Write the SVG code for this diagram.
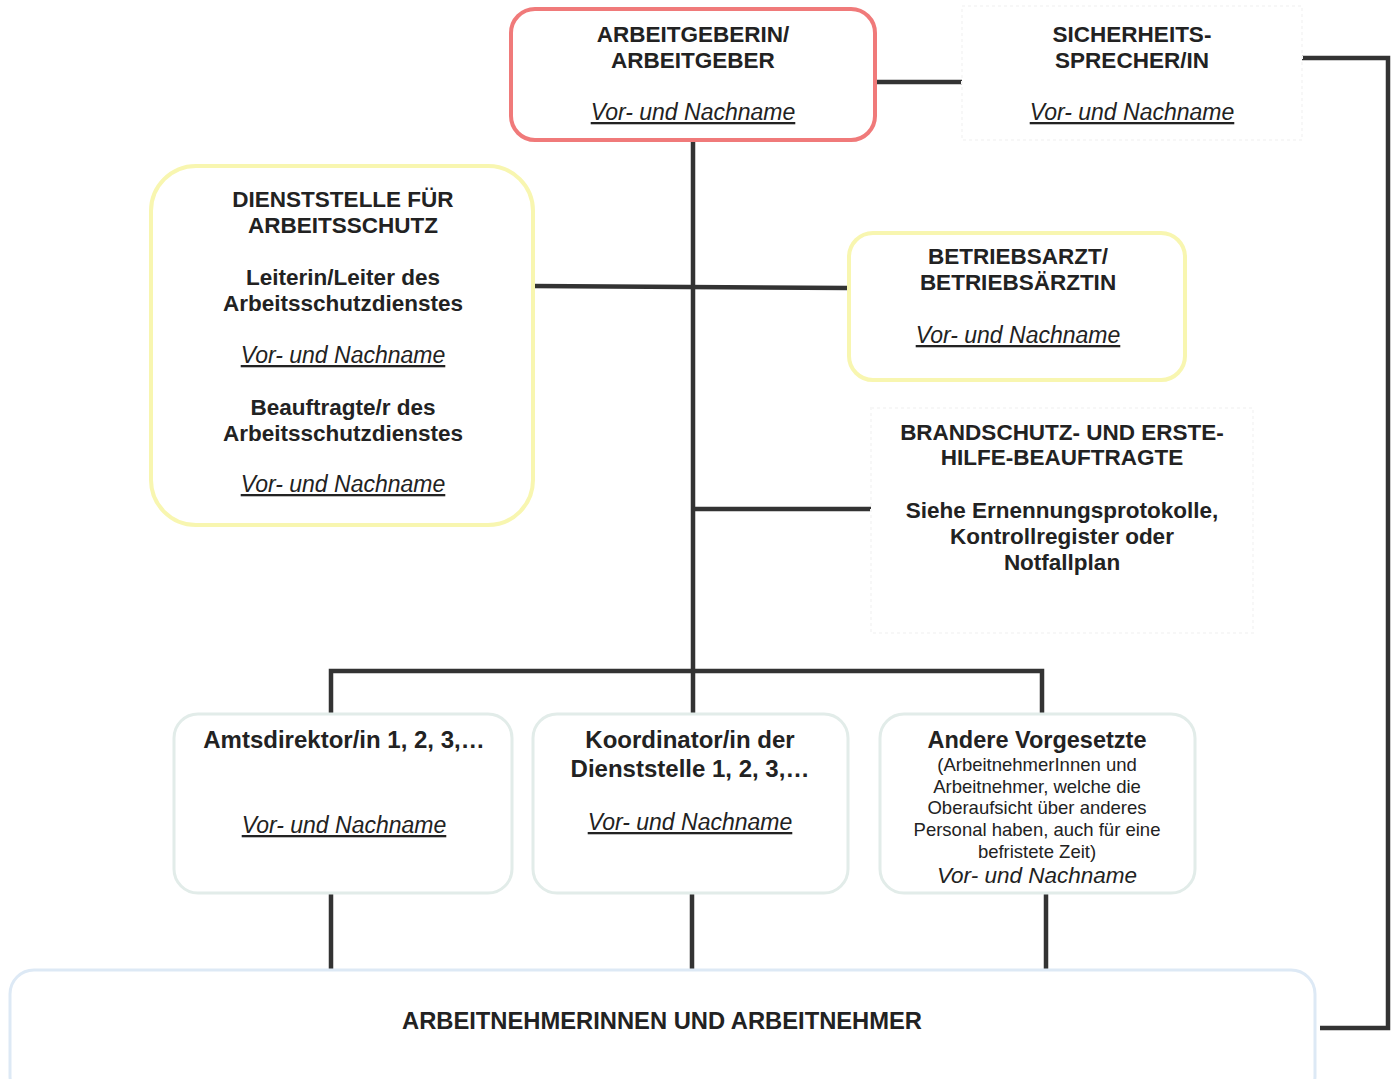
<svg xmlns="http://www.w3.org/2000/svg" width="1396" height="1079" viewBox="0 0 1396 1079">
<style>
text{font-family:"Liberation Sans",Arial,sans-serif;fill:#222;text-anchor:middle}
.b{font-weight:bold;font-size:22.5px}
.n{font-style:italic;font-size:23px;text-decoration:underline}
.s{font-size:18.5px}
.box{fill:#fff}
.red{stroke:#f07a7a;stroke-width:4}
.yel{stroke:#f8f6b0;stroke-width:4}
.grn{stroke:#e2ece9;stroke-width:3}
.blu{stroke:#dde9f5;stroke-width:3}
.faint{stroke:#f7f7f7;stroke-width:2;stroke-dasharray:3 3}
.ln{stroke:#333;stroke-width:4.5;fill:none}
</style>
<rect width="1396" height="1079" fill="#fff"/>
<g id="connectors">
<path class="ln" d="M693 140V713"/>
<path class="ln" d="M875 82H962"/>
<path class="ln" d="M533 286L848 288"/>
<path class="ln" d="M693 509H872"/>
<path class="ln" d="M331 713V671H1042V713"/>
<path class="ln" d="M331 893V972M692 893V972M1046 893V972"/>
<path class="ln" d="M1300 58H1388V1028H1320"/>
</g>
<g id="arbeitgeber">
<rect class="box red" x="511" y="9" width="364" height="131" rx="24"/>
<text class="b" x="693" y="42">ARBEITGEBERIN/</text>
<text class="b" x="693" y="68">ARBEITGEBER</text>
<text class="n" x="693" y="120">Vor- und Nachname</text>
</g>
<g id="sicherheitssprecher">
<rect class="box faint" x="962" y="6" width="340" height="134"/>
<text class="b" x="1132" y="42">SICHERHEITS-</text>
<text class="b" x="1132" y="68">SPRECHER/IN</text>
<text class="n" x="1132" y="120">Vor- und Nachname</text>
</g>
<g id="dienststelle">
<rect class="box yel" x="151" y="166" width="382" height="359" rx="45"/>
<text class="b" x="343" y="207">DIENSTSTELLE FÜR</text>
<text class="b" x="343" y="233">ARBEITSSCHUTZ</text>
<text class="b" x="343" y="285">Leiterin/Leiter des</text>
<text class="b" x="343" y="311">Arbeitsschutzdienstes</text>
<text class="n" x="343" y="363">Vor- und Nachname</text>
<text class="b" x="343" y="415">Beauftragte/r des</text>
<text class="b" x="343" y="441">Arbeitsschutzdienstes</text>
<text class="n" x="343" y="492">Vor- und Nachname</text>
</g>
<g id="betriebsarzt">
<rect class="box yel" x="849" y="233" width="336" height="147" rx="24"/>
<text class="b" x="1018" y="264">BETRIEBSARZT/</text>
<text class="b" x="1018" y="290">BETRIEBSÄRZTIN</text>
<text class="n" x="1018" y="343">Vor- und Nachname</text>
</g>
<g id="brandschutz">
<rect class="box faint" x="871" y="408" width="382" height="225"/>
<text class="b" x="1062" y="440">BRANDSCHUTZ- UND ERSTE-</text>
<text class="b" x="1062" y="465">HILFE-BEAUFTRAGTE</text>
<text class="b" x="1062" y="518" style="font-size:22.5px">Siehe Ernennungsprotokolle,</text>
<text class="b" x="1062" y="544" style="font-size:22.5px">Kontrollregister oder</text>
<text class="b" x="1062" y="570" style="font-size:22.5px">Notfallplan</text>
</g>
<g id="amtsdirektor">
<rect class="box grn" x="174" y="714" width="338" height="179" rx="24"/>
<text class="b" x="344" y="748" style="font-size:24px">Amtsdirektor/in 1, 2, 3,…</text>
<text class="n" x="344" y="833">Vor- und Nachname</text>
</g>
<g id="koordinator">
<rect class="box grn" x="533" y="714" width="315" height="179" rx="24"/>
<text class="b" x="690" y="748" style="font-size:24px">Koordinator/in der</text>
<text class="b" x="690" y="777" style="font-size:24px">Dienststelle 1, 2, 3,…</text>
<text class="n" x="690" y="830">Vor- und Nachname</text>
</g>
<g id="andere">
<rect class="box grn" x="880" y="714" width="315" height="179" rx="24"/>
<text class="b" x="1037" y="748" style="font-size:23.5px">Andere Vorgesetzte</text>
<text class="s" x="1037" y="771">(ArbeitnehmerInnen und</text>
<text class="s" x="1037" y="793">Arbeitnehmer, welche die</text>
<text class="s" x="1037" y="814">Oberaufsicht über anderes</text>
<text class="s" x="1037" y="836">Personal haben, auch für eine</text>
<text class="s" x="1037" y="858">befristete Zeit)</text>
<text x="1037" y="883" style="font-style:italic;font-size:22.5px">Vor- und Nachname</text>
</g>
<g id="arbeitnehmer">
<rect class="box blu" x="10" y="970" width="1305" height="130" rx="24"/>
<text class="b" x="662" y="1029" style="font-size:24px" textLength="520" lengthAdjust="spacingAndGlyphs">ARBEITNEHMERINNEN UND ARBEITNEHMER</text>
</g>
</svg>
